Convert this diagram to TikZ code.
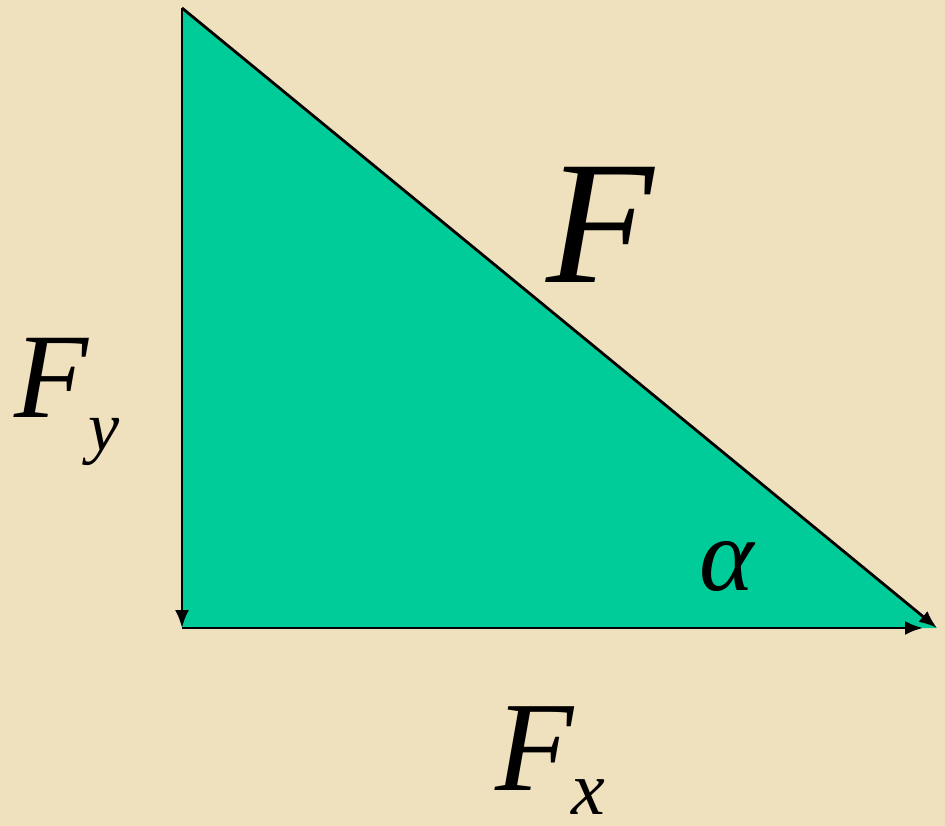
\documentclass[tikz,border=0pt]{standalone}
\usepackage{fontspec}
\setmainfont{Liberation Serif}
\usetikzlibrary{arrows.meta}
\definecolor{bgbeige}{RGB}{239,225,190}
\definecolor{trigreen}{RGB}{0,204,153}
\tikzset{
  vec/.style={line width=2.8pt, -{Latex[length=18pt,width=14pt]}},
  lbl/.style={inner sep=0pt, anchor=base west, font=\itshape},
}
\begin{document}
\begin{tikzpicture}[x=1pt,y=-1pt]
\fill[bgbeige] (0,0) rectangle (945,826);
\useasboundingbox (0,0) rectangle (945,826);
\coordinate (T) at (182,8);
\coordinate (B) at (182,628);
\coordinate (R) at (937,628);
\fill[trigreen] (T) -- (B) -- (R) -- cycle;
\draw[vec] (T) -- (B);
\draw[vec] (B) -- ([xshift=-14pt]R);
\draw[vec] (T) -- (R);
\node[lbl, font=\itshape\fontsize{176}{176}\selectfont] (F) at (546,283) {F};
\node[lbl, font=\itshape\fontsize{121}{121}\selectfont] (Fy) at (14,417) {F};
\node[lbl, font=\itshape\fontsize{70}{70}\selectfont] (sy) at (88,450) {y};
\node[lbl, font=\itshape\fontsize{128}{128}\selectfont] (Fx) at (495,790) {F};
\node[lbl, font=\itshape\fontsize{76}{76}\selectfont] (sx) at (571,814) {x};
\node[lbl, font=\itshape\fontsize{104}{104}\selectfont] (al) at (699,590) {α};
\end{tikzpicture}
\end{document}
